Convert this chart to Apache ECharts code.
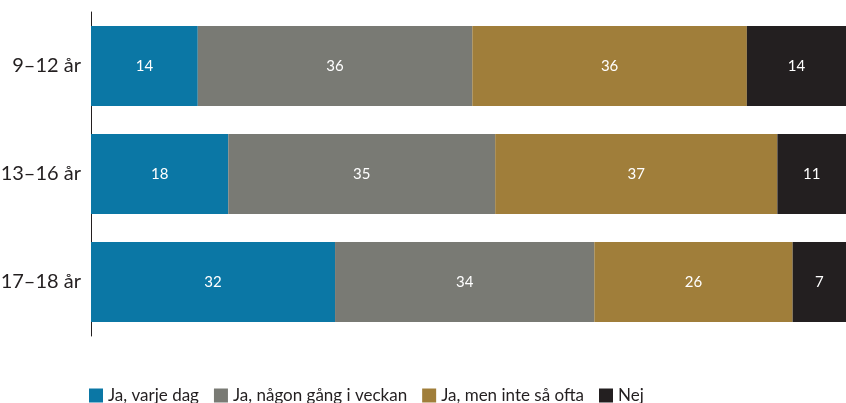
<!DOCTYPE html>
<html><head><meta charset="utf-8">
<script src="https://cdn.jsdelivr.net/npm/echarts@6/dist/echarts.min.js"></script>
<style>html,body{margin:0;padding:0;background:#fff}#c{width:846px;height:403px}</style>
</head><body><div id="c"></div>
<script>
const categories = ['9–12 år', '13–16 år', '17–18 år'];
const seriesNames = ['Ja, varje dag', 'Ja, någon gång i veckan', 'Ja, men inte så ofta', 'Nej'];
const varjeDag = [14, 18, 32];
const nagonGang = [36, 35, 34];
const inteSaOfta = [36, 37, 26];
const nej = [14, 11, 7];
const colors = ['#0b77a5', '#797a74', '#a07e3a', '#231f20'];

const raw = [varjeDag, nagonGang, inteSaOfta, nej];
const font = 'Lato, sans-serif';

const chart = echarts.init(document.getElementById('c'));
chart.setOption({
  animation: false,
  color: colors,
  grid: { left: 91, right: 0, top: 12, bottom: 67, outerBoundsMode: 'none', containLabel: false },
  legend: {
    left: 84, bottom: -6, itemWidth: 14, itemHeight: 14, itemGap: 15,
    icon: 'rect',
    textStyle: { fontFamily: font, fontSize: 17, color: '#231f20' },
    data: seriesNames
  },
  xAxis: { type: 'value', min: 0, max: 99, show: false },
  yAxis: {
    type: 'category', inverse: true, data: categories,
    axisLine: { show: true, lineStyle: { color: '#231f20', width: 1 } },
    axisTick: { show: false },
    axisLabel: { fontFamily: font, fontSize: 20, color: '#231f20', margin: 10 }
  },
  series: raw.map((arr, k) => ({
    name: seriesNames[k], type: 'bar', stack: 'total', barWidth: 80, clip: true,
    data: arr,
    label: {
      show: true, position: 'inside', color: '#fff',
      fontFamily: font, fontSize: 15
    }
  }))
});
</script></body></html>
